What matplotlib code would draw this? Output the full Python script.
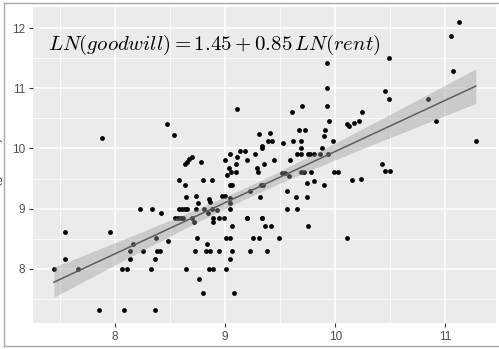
import numpy as np
import matplotlib
matplotlib.use("Agg")
import matplotlib.pyplot as plt
from matplotlib.lines import Line2D

# ---- data ----
ln_rent = [
    7.445, 7.55, 7.55, 7.66, 7.85, 7.885, 7.95, 8.085, 8.06, 8.11, 8.136, 8.136, 8.167,
    8.23, 8.258, 8.33, 8.34, 8.367, 8.367, 8.375, 8.385, 8.41, 8.418, 8.485, 8.476, 8.54,
    8.697, 8.675, 8.657, 8.636, 8.785, 8.585, 8.636, 8.803, 8.882, 9.0, 9.048, 9.112, 9.1,
    9.034, 9.052, 9.1, 9.015, 9.048, 8.642, 8.736, 8.757, 8.855, 8.864, 8.973, 9.003, 9.045,
    8.585, 8.606, 8.636, 8.657, 8.736, 8.809, 8.885, 8.927, 9.045, 8.545, 8.576, 8.597,
    8.621, 8.697, 8.718, 8.848, 8.888, 8.894, 8.94, 8.994, 9.066, 9.01, 9.045, 8.748, 8.839,
    8.73, 8.824, 8.864, 8.94, 9.066, 9.045, 8.642, 8.855, 8.894, 9.006, 8.764, 8.803, 9.085,
    9.197, 9.227,
    9.106, 9.70, 9.606, 9.924, 9.924, 9.924, 9.943, 9.312, 9.403, 9.385, 9.43, 9.521, 9.612,
    9.673, 9.724, 9.688, 9.909, 9.894, 9.976, 9.336, 9.336, 9.136, 9.176, 9.275, 9.197,
    9.357, 9.288, 9.297, 9.448, 9.688, 9.652, 9.691, 9.752, 9.773, 9.803, 9.858, 9.93, 9.59,
    9.88, 11.127, 11.048, 11.073, 10.485, 10.448, 10.49, 10.84, 10.106, 10.127, 10.172,
    10.212, 10.24, 10.915, 11.276, 10.424, 10.455, 10.50, 9.743, 9.809, 9.90, 10.155, 10.23,
    9.56, 9.318, 9.648, 9.743, 9.56, 9.657, 9.336, 9.366, 9.415, 9.757, 9.252, 9.312, 9.49,
    10.103, 9.376, 9.33, 9.515, 9.545, 9.576, 9.688, 9.718, 9.782, 9.985, 10.024, 9.06,
    9.34, 9.227, 9.045, 9.203, 9.336,
]
ln_goodwill = [
    8.00, 8.62, 8.16, 8.00, 7.31, 10.18, 8.62, 7.31, 8.00, 8.00, 8.16, 8.30, 8.41,
    8.99, 8.30, 8.00, 8.99, 7.31, 8.16, 8.52, 8.30, 8.30, 8.93, 8.47, 10.40, 10.22,
    9.86, 9.82, 9.78, 9.74, 9.77, 9.48, 9.40, 9.48, 9.48, 9.80, 9.90, 9.85, 9.74,
    9.67, 9.61, 9.61, 9.56, 9.40, 9.20, 9.21, 9.10, 9.16, 9.11, 9.21, 9.21, 9.10,
    8.99, 8.99, 8.99, 8.99, 8.99, 8.99, 9.00, 8.98, 8.99, 8.85, 8.85, 8.85,
    8.85, 8.85, 8.78, 8.92, 8.84, 8.77, 8.85, 8.85, 8.71, 8.52, 8.52, 8.52, 8.41,
    8.30, 8.30, 8.30, 8.30, 8.30, 8.17, 8.00, 8.00, 8.00, 8.00, 7.83, 7.60, 7.60,
    8.85, 8.30,
    10.65, 10.71, 10.60, 10.71, 11.42, 11.00, 10.46, 10.24, 10.26, 10.13, 10.13, 10.09, 10.13,
    10.30, 10.30, 10.13, 10.30, 10.21, 10.13, 10.04, 10.00, 9.96, 9.96, 9.90, 9.80,
    9.74, 9.68, 9.61, 9.80, 10.00, 9.90, 9.90, 9.90, 9.90, 9.90, 9.90, 9.90, 9.80,
    10.00, 12.10, 11.86, 11.29, 11.51, 10.96, 10.82, 10.82, 10.40, 10.38, 10.43,
    10.46, 10.60, 10.46, 10.13, 9.74, 9.63, 9.63, 9.43, 9.46, 9.39, 9.47, 9.50,
    9.30, 9.20, 9.20, 9.20, 8.99, 8.99, 8.84, 8.71, 8.71, 8.71, 8.52, 8.52, 8.52,
    8.52, 8.30, 9.39, 9.60, 9.60, 9.55, 9.61, 9.61, 9.61, 9.61, 9.61, 9.40,
    9.40, 9.29, 9.18, 8.85, 8.85,
]
intercept = 1.45
slope = 0.85
x_ticks = [8, 9, 10, 11]
y_ticks = [8, 9, 10, 11, 12]
label = r"$LN(goodwill) = 1.45 + 0.85\,LN(rent)$"

x = np.array(ln_rent)
y = np.array(ln_goodwill)

# ---- confidence band (lm, 95%) ----
n = len(x)
resid = y - (intercept + slope * x)
s = np.sqrt(np.sum(resid ** 2) / (n - 2))
xbar = x.mean()
sxx = np.sum((x - xbar) ** 2)
xs = np.linspace(x.min(), x.max(), 80)
fit = intercept + slope * xs
se = s * np.sqrt(1.0 / n + (xs - xbar) ** 2 / sxx)
tq = 1.97
lo, hi = fit - tq * se, fit + tq * se

# ---- figure ----
plt.rcParams["mathtext.fontset"] = "cm"
fig = plt.figure(figsize=(4.99, 3.49), dpi=100)
ax = fig.add_axes([33 / 499, 1 - 323 / 349, (496 - 33) / 499, (323 - 7) / 349])
ax.set_facecolor("#EBEBEB")

ax.set_xlim(7.255, 11.46)
ax.set_ylim(7.10, 12.35)

for v in [7.5, 8.5, 9.5, 10.5]:
    ax.axvline(v, color="white", lw=0.55, zorder=0.5)
for v in [7.5, 8.5, 9.5, 10.5, 11.5]:
    ax.axhline(v, color="white", lw=0.55, zorder=0.5)
for v in x_ticks:
    ax.axvline(v, color="white", lw=1.1, zorder=0.6)
for v in y_ticks:
    ax.axhline(v, color="white", lw=1.1, zorder=0.6)

ax.scatter(x, y, s=12, color="black", linewidths=0, zorder=2)
ax.fill_between(xs, lo, hi, color="#999999", alpha=0.4, linewidth=0, zorder=3)
ax.plot(xs, fit, color="#5E5E5E", lw=1.1, zorder=4)

ax.text(8.9, 11.72, label, fontsize=15, ha="center", va="center", zorder=5)

ax.set_xticks(x_ticks)
ax.set_yticks(y_ticks)
ax.set_xticklabels([str(t) for t in x_ticks], fontfamily="Liberation Sans")
ax.set_yticklabels([str(t) for t in y_ticks], fontfamily="Liberation Sans")
ax.tick_params(axis="both", colors="#333333", length=3, width=0.8,
               labelcolor="#4D4D4D", labelsize=8.5, pad=2.5)
for sp in ax.spines.values():
    sp.set_visible(False)

# partially visible outer border / axis title (cropped screenshot)
fig.add_artist(Line2D([4 / 499, 4 / 499], [3 / 349, 1 - 3 / 349], color="#A8A8A8", lw=1.0))
fig.add_artist(Line2D([4 / 499, 1], [1 - 3 / 349, 1 - 3 / 349], color="#A8A8A8", lw=1.0))
fig.add_artist(Line2D([4 / 499, 1], [3 / 349, 3 / 349], color="#A8A8A8", lw=1.0))
fig.text(-0.006, 0.52, "LN(goodwill)", rotation=90, ha="center", va="center",
         fontsize=8, color="#333333", fontfamily="Liberation Sans")

fig.savefig("out.png", dpi=100)
